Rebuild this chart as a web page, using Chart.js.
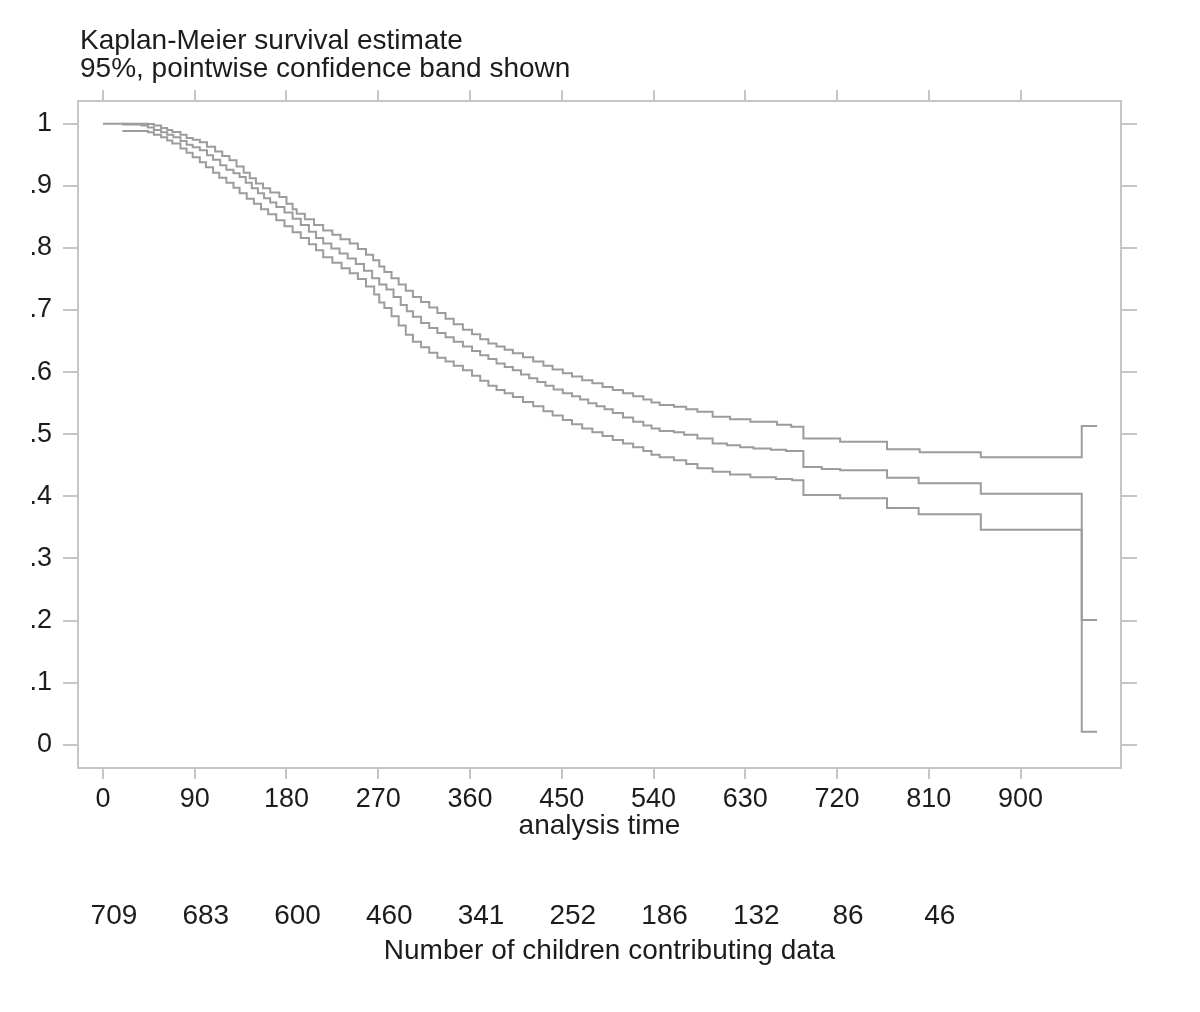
<!DOCTYPE html>
<html>
<head>
<meta charset="utf-8">
<script src="https://cdn.jsdelivr.net/npm/chart.js@4.4.1/dist/chart.umd.min.js"></script>
<style>
html,body{margin:0;padding:0;background:#ffffff;}
#wrap{width:1200px;height:1012px;position:relative;}
canvas{display:block;}
</style>
</head>
<body>
<div id="wrap"><canvas id="c" width="1200" height="1012"></canvas></div>
<script>
// ---------------- data ----------------
const titleLines = ["Kaplan-Meier survival estimate", "95%, pointwise confidence band shown"];
const xAxisTitle = "analysis time";
const riskTitle = "Number of children contributing data";

const xTickValues = [0, 90, 180, 270, 360, 450, 540, 630, 720, 810, 900];
const yTickValues = [0, 0.1, 0.2, 0.3, 0.4, 0.5, 0.6, 0.7, 0.8, 0.9, 1];
const yTickLabels = ["0", ".1", ".2", ".3", ".4", ".5", ".6", ".7", ".8", ".9", "1"];

const riskCounts = [709, 683, 600, 460, 341, 252, 186, 132, 86, 46];

// Kaplan-Meier estimate (step function: value holds from time onward)
const kmTime = [0, 20, 38, 44, 50, 57, 63, 69, 76, 82, 88, 95, 102, 108, 115, 121, 128, 134, 140, 146, 152, 158, 164, 170,
  178, 186, 194, 202, 209, 216, 224, 232, 240, 248, 256, 264, 271, 278, 285, 292, 298, 304, 312, 320, 328, 336, 344, 353,
  362, 370, 378, 386, 394, 402, 410, 418, 426, 434, 442, 451, 460, 468, 476, 484, 492, 500, 510, 520, 530, 538, 546, 560,
  570, 583, 598, 612, 625, 638, 655, 670, 687, 705, 723, 769, 800, 861, 960, 975];
const kmSurv = [1.000, 0.9986, 0.997, 0.994, 0.990, 0.986, 0.982, 0.978, 0.972, 0.966, 0.962, 0.957, 0.949, 0.942, 0.933, 0.926, 0.920, 0.914, 0.905, 0.896, 0.888, 0.880, 0.873, 0.866,
  0.857, 0.847, 0.837, 0.826, 0.816, 0.807, 0.799, 0.791, 0.783, 0.774, 0.763, 0.751, 0.741, 0.733, 0.721, 0.708, 0.698, 0.689, 0.679, 0.671, 0.663, 0.656, 0.649, 0.641,
  0.634, 0.627, 0.621, 0.614, 0.608, 0.603, 0.596, 0.590, 0.584, 0.578, 0.572, 0.566, 0.561, 0.556, 0.550, 0.545, 0.540, 0.534, 0.527, 0.520, 0.514, 0.509, 0.505, 0.503,
  0.499, 0.493, 0.485, 0.482, 0.479, 0.477, 0.475, 0.473, 0.447, 0.444, 0.442, 0.430, 0.421, 0.404, 0.201, 0.201];

// Upper 95% pointwise bound
const upperTime = [19, 44, 50, 57, 63, 68, 76, 82, 88, 95, 102, 110, 117, 124, 131, 138, 144, 150, 157, 164, 173, 180, 186, 190,
  198, 207, 216, 225, 233, 242, 250, 258, 265, 271, 276, 283, 290, 297, 304, 312, 320, 328, 336, 344, 353, 362, 370, 378,
  386, 394, 402, 412, 422, 432, 441, 451, 460, 470, 480, 490, 500, 510, 520, 530, 538, 546, 560, 572, 583, 598, 615, 635,
  661, 675, 687, 723, 769, 801, 861, 960, 975];
const upperCI = [0.9999, 0.9995, 0.997, 0.993, 0.990, 0.9865, 0.982, 0.977, 0.974, 0.970, 0.963, 0.955, 0.948, 0.941, 0.931, 0.921, 0.912, 0.9035, 0.896, 0.889, 0.882, 0.871, 0.862, 0.855,
  0.846, 0.837, 0.828, 0.821, 0.814, 0.807, 0.798, 0.789, 0.780, 0.770, 0.761, 0.751, 0.741, 0.731, 0.721, 0.713, 0.704, 0.695, 0.686, 0.677, 0.668, 0.661, 0.653, 0.646,
  0.641, 0.636, 0.6305, 0.624, 0.617, 0.610, 0.604, 0.598, 0.593, 0.587, 0.582, 0.576, 0.571, 0.566, 0.561, 0.556, 0.551, 0.547, 0.544, 0.540, 0.536, 0.528, 0.524, 0.520,
  0.515, 0.512, 0.493, 0.488, 0.4756, 0.471, 0.463, 0.513, 0.513];

// Lower 95% pointwise bound
const lowerTime = [19, 44, 50, 57, 63, 68, 76, 82, 88, 95, 101, 108, 114, 121, 128, 134, 141, 148, 155, 162, 170, 178, 186, 194,
  202, 209, 216, 225, 234, 242, 250, 258, 266, 271, 276, 283, 290, 297, 304, 312, 320, 328, 336, 344, 353, 362, 370, 378,
  386, 394, 402, 412, 422, 432, 441, 451, 460, 470, 480, 490, 500, 510, 520, 530, 538, 546, 560, 572, 583, 598, 615, 635,
  660, 676, 687, 723, 769, 800, 861, 960, 975];
const lowerCI = [0.988, 0.986, 0.982, 0.978, 0.973, 0.968, 0.960, 0.953, 0.946, 0.938, 0.930, 0.921, 0.913, 0.905, 0.897, 0.888, 0.879, 0.871, 0.862, 0.854, 0.8445, 0.835, 0.825, 0.816,
  0.806, 0.796, 0.785, 0.776, 0.767, 0.759, 0.750, 0.738, 0.725, 0.712, 0.703, 0.690, 0.675, 0.660, 0.649, 0.640, 0.631, 0.623, 0.617, 0.610, 0.603, 0.594, 0.586, 0.578,
  0.571, 0.566, 0.560, 0.552, 0.545, 0.537, 0.530, 0.523, 0.516, 0.509, 0.503, 0.497, 0.4905, 0.485, 0.479, 0.473, 0.467, 0.463, 0.458, 0.452, 0.445, 0.4396, 0.435, 0.4306,
  0.428, 0.426, 0.402, 0.397, 0.381, 0.371, 0.346, 0.021, 0.021];

// ---------------- styling ----------------
const FONT = "'Liberation Sans', Arial, Helvetica, sans-serif";
const LINE_COLOR = '#9c9c9c';
const AXIS_COLOR = '#c6c6c6';
const TEXT_COLOR = '#1c1c1c';
const X_MIN = -24.5, X_MAX = 998.5;
const Y_MIN = -0.0375, Y_MAX = 1.0365;

function pts(times, vals) { return times.map((t, i) => ({ x: t, y: vals[i] })); }

function lineDs(times, vals) {
  return {
    data: pts(times, vals),
    borderColor: LINE_COLOR,
    backgroundColor: LINE_COLOR,
    borderWidth: 2,
    pointRadius: 0,
    stepped: 'before',
    fill: false
  };
}

const setXTicks = s => { s.ticks = xTickValues.map(v => ({ value: v })); };
const setYTicks = s => { s.ticks = yTickValues.map(v => ({ value: v })); };

const textPlugin = {
  id: 'extraText',
  afterDraw(chart) {
    const ctx = chart.ctx;
    const area = chart.chartArea;
    const xs = chart.scales.x;
    ctx.save();
    ctx.fillStyle = TEXT_COLOR;
    ctx.textBaseline = 'middle';
    ctx.font = `28px ${FONT}`;
    ctx.textAlign = 'left';
    ctx.fillText(titleLines[0], 80, 41);
    ctx.fillText(titleLines[1], 80, 69);
    ctx.textAlign = 'center';
    const cx = (area.left + area.right) / 2;
    ctx.fillText(xAxisTitle, cx, 826);
    riskCounts.forEach((n, i) => {
      ctx.fillText(String(n), xs.getPixelForValue(xTickValues[i]) + 11, 916);
    });
    ctx.fillText(riskTitle, cx + 10, 951);
    ctx.restore();
  }
};

const gridCfg = { drawOnChartArea: false, drawTicks: true, color: AXIS_COLOR, lineWidth: 2 };
const borderCfg = { display: true, color: AXIS_COLOR, width: 2 };

new Chart(document.getElementById('c'), {
  type: 'line',
  data: {
    datasets: [
      lineDs(upperTime, upperCI),
      lineDs(kmTime, kmSurv),
      lineDs(lowerTime, lowerCI)
    ]
  },
  options: {
    responsive: false,
    animation: false,
    devicePixelRatio: 1,
    layout: { padding: 0 },
    plugins: { legend: { display: false }, tooltip: { enabled: false }, title: { display: false } },
    scales: {
      x: {
        type: 'linear', position: 'bottom', min: X_MIN, max: X_MAX,
        afterBuildTicks: setXTicks,
        afterFit: s => { s.height = 244; },
        grid: Object.assign({ tickLength: 11 }, gridCfg),
        border: borderCfg,
        ticks: { color: TEXT_COLOR, font: { family: FONT, size: 27 }, padding: 4, maxRotation: 0, autoSkip: false,
                 callback: v => String(v) }
      },
      x2: {
        type: 'linear', position: 'top', min: X_MIN, max: X_MAX,
        afterBuildTicks: setXTicks,
        afterFit: s => { s.height = 101; },
        grid: Object.assign({ tickLength: 11 }, gridCfg),
        border: borderCfg,
        ticks: { display: false }
      },
      y: {
        type: 'linear', position: 'left', min: Y_MIN, max: Y_MAX,
        afterBuildTicks: setYTicks,
        afterFit: s => { s.width = 78; },
        grid: Object.assign({ tickLength: 15 }, gridCfg),
        border: borderCfg,
        ticks: { color: TEXT_COLOR, font: { family: FONT, size: 27 }, padding: 11, autoSkip: false,
                 callback: (v, i) => yTickLabels[i] }
      },
      y2: {
        type: 'linear', position: 'right', min: Y_MIN, max: Y_MAX,
        afterBuildTicks: setYTicks,
        afterFit: s => { s.width = 79; },
        grid: Object.assign({ tickLength: 16 }, gridCfg),
        border: borderCfg,
        ticks: { display: false }
      }
    }
  },
  plugins: [textPlugin]
});
</script>
</body>
</html>
